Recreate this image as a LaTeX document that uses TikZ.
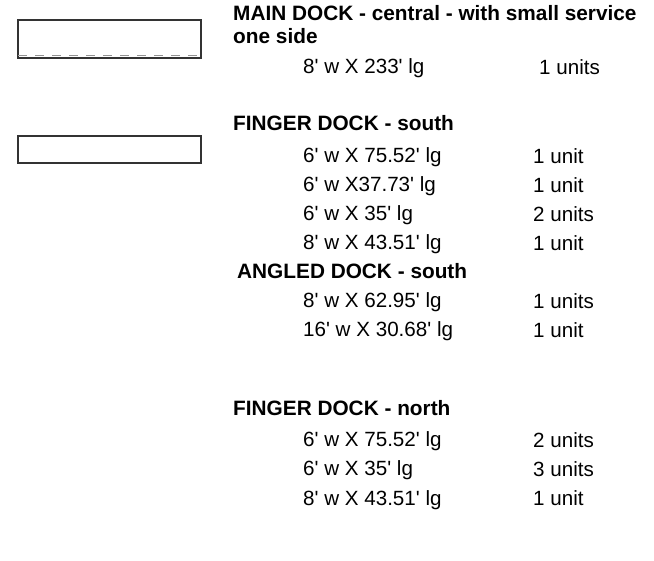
\documentclass[tikz,border=0pt]{standalone}
\usepackage{fontspec}
\setmainfont{Liberation Sans}[Ligatures=TeXReset]
\begin{document}
\begin{tikzpicture}[x=1pt,y=-1pt,
  hd/.style={anchor=base west,inner sep=0pt,font=\fontsize{20.8}{24}\selectfont\bfseries},
  txt/.style={anchor=base west,inner sep=0pt,font=\fontsize{20.6}{24}\selectfont},
  dockbox/.style={draw=black!80,line width=1.6pt}]
\useasboundingbox (0,0) rectangle (654,561);
% legend rectangles
\node[dockbox,minimum width=183pt,minimum height=38pt,inner sep=0pt,anchor=north west] (boxa) at (17,19) {};
\draw[gray!85,dash pattern=on 9pt off 8pt,line width=0.9pt] ([xshift=1pt,yshift=3.2pt]boxa.south west) -- ([yshift=3.2pt]boxa.south east);
\node[dockbox,minimum width=183pt,minimum height=27pt,inner sep=0pt,anchor=north west] (boxb) at (17,135) {};
% main dock
\node[hd] (m1) at (233,21) {MAIN DOCK - central - with small service};
\node[hd] (m2) at (233,44) {one side};
\node[txt] (m3) at (303,74) {8' w X 233' lg};
\node[txt] (m3u) at (539,75) {1 units};
% finger dock south
\node[hd] (fs) at (233,131) {FINGER DOCK - south};
\node[txt] (fs1) at (303,163) {6' w X 75.52' lg};
\node[txt] (fs1u) at (533,164) {1 unit};
\node[txt] (fs2) at (303,192) {6' w X37.73' lg};
\node[txt] (fs2u) at (533,193) {1 unit};
\node[txt] (fs3) at (303,221) {6' w X 35' lg};
\node[txt] (fs3u) at (533,222) {2 units};
\node[txt] (fs4) at (303,250) {8' w X 43.51' lg};
\node[txt] (fs4u) at (533,251) {1 unit};
% angled dock south
\node[hd] (as) at (237,279) {ANGLED DOCK - south};
\node[txt] (as1) at (303,308) {8' w X 62.95' lg};
\node[txt] (as1u) at (533,309) {1 units};
\node[txt] (as2) at (303,337) {16' w X 30.68' lg};
\node[txt] (as2u) at (533,338) {1 unit};
% finger dock north
\node[hd] (fn) at (233,416) {FINGER DOCK - north};
\node[txt] (fn1) at (303,447) {6' w X 75.52' lg};
\node[txt] (fn1u) at (533,448) {2 units};
\node[txt] (fn2) at (303,476) {6' w X 35' lg};
\node[txt] (fn2u) at (533,477) {3 units};
\node[txt] (fn3) at (303,505) {8' w X 43.51' lg};
\node[txt] (fn3u) at (533,506) {1 unit};
\end{tikzpicture}
\end{document}
